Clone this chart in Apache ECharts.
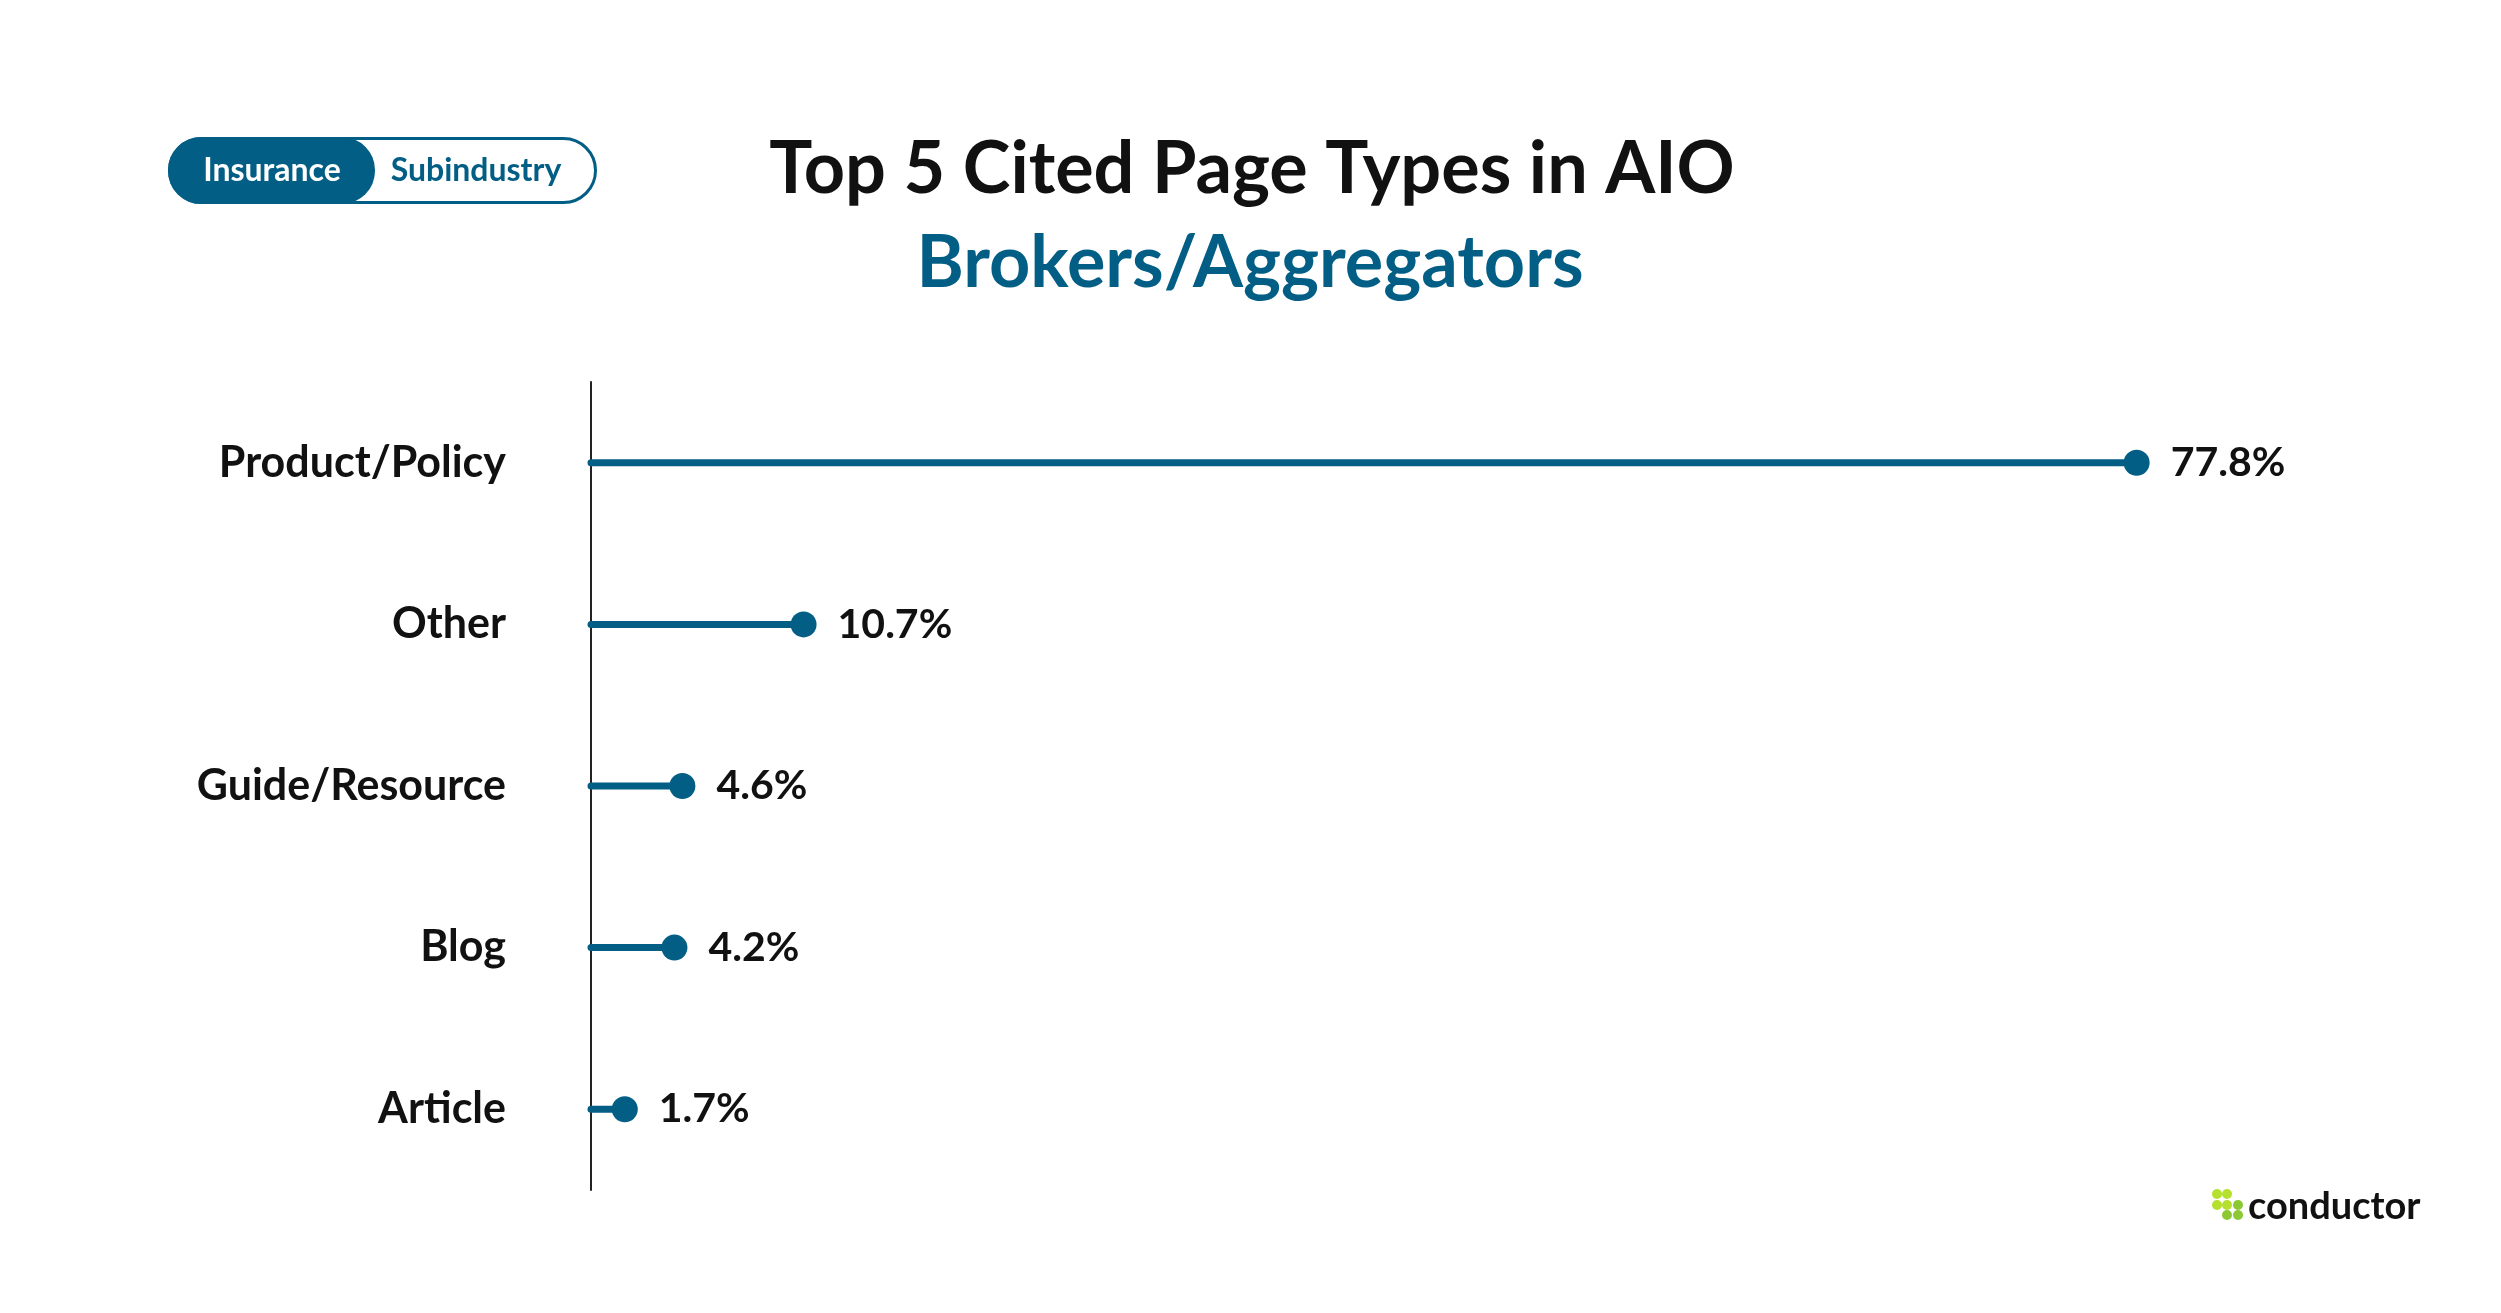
<!DOCTYPE html>
<html><head><meta charset="utf-8">
<style>html,body{margin:0;padding:0;background:#fff}#c{width:2501px;height:1313px}</style>
<script src="https://cdn.jsdelivr.net/npm/echarts@6/dist/echarts.min.js"></script>
</head><body><div id="c"></div>
<script>
const categories = ['Product/Policy','Other','Guide/Resource','Blog','Article'];
const values = [77.8,10.7,4.6,4.2,1.7];
const titleText = 'Top 5 Cited Page Types in AIO';
const subtitleText = 'Brokers/Aggregators';
const toggleLabels = ['Insurance','Subindustry'];
const brandName = 'conductor';

const BLUE = '#035e85', INK = '#111111', FONT = 'Lato, "Noto Sans", sans-serif';
const logoDots = [[2217,1194,'#b5e02f'],[2227,1194,'#b5e02f'],[2217,1205,'#b5e02f'],[2227,1205,'#b5e02f'],[2238,1205,'#8cc832'],[2227,1215,'#8cc832'],[2238,1215,'#8cc832']];

const chart = echarts.init(document.getElementById('c'), null, {renderer:'canvas'});
chart.setOption({
  animation:false,
  backgroundColor:'#fff',
  title:[
    {text:titleText,left:1247,top:129,textAlign:'center',textStyle:{fontFamily:FONT,fontSize:72,fontWeight:700,color:INK}},
    {text:subtitleText,left:1245,top:223,textAlign:'center',textStyle:{fontFamily:FONT,fontSize:72,fontWeight:700,color:BLUE}}
  ],
  grid:{left:591,top:382,width:1788,height:808,containLabel:false},
  xAxis:{type:'value',min:0,max:90,show:false},
  yAxis:{type:'category',inverse:true,data:categories,
    axisLine:{show:true,lineStyle:{color:'#222',width:2}},axisTick:{show:false},
    axisLabel:{margin:85,fontFamily:FONT,fontSize:43,fontWeight:700,color:INK}},
  series:[
    {type:'custom',z:3,clip:false,data:values.map((v,i)=>[v,i]),
     encode:{x:0,y:1},
     renderItem:(p,api)=>{
       const e=api.coord([api.value(0),api.value(1)]);
       const s=api.coord([0,api.value(1)]);
       return {type:'line',shape:{x1:s[0],y1:s[1],x2:e[0],y2:e[1]},
         style:{stroke:BLUE,lineWidth:7,lineCap:'round'}};
     }},
    {type:'scatter',z:4,data:values.map((v,i)=>[v,i]),symbol:'circle',symbolSize:26,
     itemStyle:{color:BLUE,opacity:1},
     label:{show:true,position:'right',distance:21,formatter:p=>p.value[0].toFixed(1)+'%',
       fontFamily:FONT,fontSize:41,fontWeight:700,color:INK}}
  ],
  graphic:[
    {type:'rect',shape:{x:169.5,y:138.5,width:426,height:64,r:32},style:{fill:'#fff',stroke:BLUE,lineWidth:3}},
    {type:'rect',shape:{x:168,y:137,width:207,height:67,r:33},style:{fill:BLUE}},
    {type:'text',style:{x:272,y:171,text:toggleLabels[0],align:'center',verticalAlign:'middle',fontFamily:FONT,fontSize:32,fontWeight:700,fill:'#fff'}},
    {type:'text',style:{x:476,y:171,text:toggleLabels[1],align:'center',verticalAlign:'middle',fontFamily:FONT,fontSize:32,fontWeight:700,fill:BLUE}},
    ...logoDots.map(d=>({type:'circle',shape:{cx:d[0],cy:d[1],r:5},style:{fill:d[2]}})),
    {type:'text',style:{x:2248,y:1207,text:brandName,align:'left',verticalAlign:'middle',fontFamily:FONT,fontSize:38,fontWeight:700,fill:INK}}
  ]
});
</script></body></html>
